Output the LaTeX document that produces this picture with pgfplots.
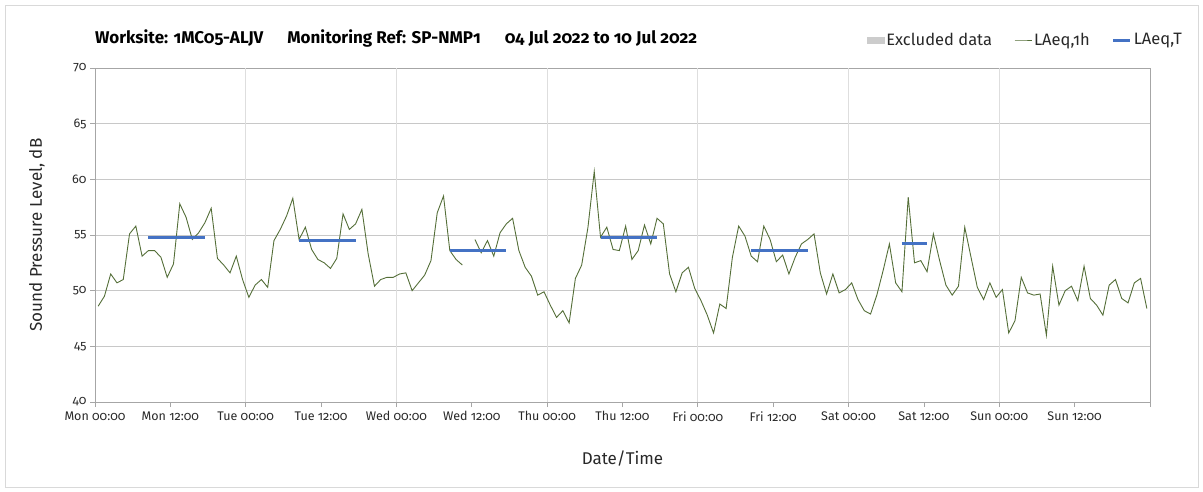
\documentclass[border=0pt]{standalone}
\usepackage{fontspec}
\setmainfont[Numbers=OldStyle]{Fira Sans}
\usepackage{pgfplots}
\pgfplotsset{compat=1.18}
\usepackage{pgfplotstable}
\definecolor{lgreen}{RGB}{84,110,56}
\definecolor{lblue}{RGB}{68,114,196}
\definecolor{hgrid}{RGB}{200,200,200}
\definecolor{vgrid}{RGB}{222,222,222}
\definecolor{axc}{RGB}{166,166,166}
\definecolor{txt}{RGB}{40,40,40}

\pgfplotstableread{
x y
0.5 48.6
1.5 49.5
2.5 51.5
3.5 50.7
4.5 51.0
5.5 55.1
6.5 55.8
7.5 53.1
8.5 53.6
9.5 53.6
10.5 53.0
11.5 51.2
12.5 52.4
13.5 57.8
14.5 56.6
15.5 54.6
16.5 55.2
17.5 56.1
18.5 57.4
19.5 52.9
20.5 52.3
21.5 51.6
22.5 53.1
23.5 51.0
24.5 49.4
25.5 50.5
26.5 51.0
27.5 50.3
28.5 54.5
29.5 55.5
30.5 56.7
31.5 58.3
32.5 54.6
33.5 55.7
34.5 53.7
35.5 52.8
36.5 52.5
37.5 52.0
38.5 52.9
39.5 56.9
40.5 55.5
41.5 56.0
42.5 57.3
43.5 53.3
44.5 50.4
45.5 51.0
46.5 51.2
47.5 51.2
48.5 51.5
49.5 51.6
50.5 50.0
51.5 50.7
52.5 51.4
53.5 52.7
54.5 57.0
55.5 58.5
56.5 53.6
57.5 52.8
58.5 52.3
59.5 nan
60.5 54.6
61.5 53.4
62.5 54.5
63.5 53.1
64.5 55.2
65.5 56.0
66.5 56.5
67.5 53.6
68.5 52.1
69.5 51.3
70.5 49.6
71.5 49.9
72.5 48.7
73.5 47.6
74.5 48.2
75.5 47.1
76.5 51.1
77.5 52.3
78.5 55.7
79.5 60.7
80.5 54.8
81.5 55.7
82.5 53.7
83.5 53.6
84.5 55.8
85.5 52.8
86.5 53.6
87.5 55.9
88.5 54.2
89.5 56.5
90.5 56.0
91.5 51.5
92.5 49.9
93.5 51.6
94.5 52.1
95.5 50.2
96.5 49.1
97.5 47.8
98.5 46.2
99.5 48.8
100.5 48.4
101.5 53.0
102.5 55.8
103.5 54.9
104.5 53.1
105.5 52.6
106.5 55.8
107.5 54.6
108.5 52.6
109.5 53.2
110.5 51.5
111.5 53.0
112.5 54.2
113.5 54.6
114.5 55.1
115.5 51.6
116.5 49.7
117.5 51.5
118.5 49.8
119.5 50.1
120.5 50.7
121.5 49.2
122.5 48.2
123.5 47.9
124.5 49.6
125.5 51.8
126.5 54.2
127.5 50.7
128.5 49.9
129.5 58.4
130.5 52.5
131.5 52.7
132.5 51.7
133.5 55.1
134.5 52.7
135.5 50.5
136.5 49.6
137.5 50.4
138.5 55.7
139.5 53.0
140.5 50.3
141.5 49.2
142.5 50.7
143.5 49.4
144.5 50.1
145.5 46.2
146.5 47.3
147.5 51.2
148.5 49.8
149.5 49.6
150.5 49.7
151.5 46.0
152.5 52.2
153.5 48.7
154.5 50.0
155.5 50.4
156.5 49.1
157.5 52.2
158.5 49.3
159.5 48.7
160.5 47.8
161.5 50.5
162.5 51.0
163.5 49.3
164.5 48.9
165.5 50.7
166.5 51.1
167.5 48.4
}\hourly

\begin{document}
\begin{tikzpicture}[x=1pt,y=1pt]
\useasboundingbox (0,0) rectangle (1203,491);
\draw[color=black!15] (5,4) rectangle (1198,486);
\node[anchor=west, inner sep=0pt, text=black, font=\fontsize{17}{19}\selectfont\bfseries] at (95,453)
  {Worksite: 1MC05-ALJV\hspace{24pt}Monitoring Ref: SP-NMP1\hspace{24pt}04 Jul 2022 to 10 Jul 2022};
\begin{axis}[
  at={(95pt,89pt)}, anchor=south west,
  scale only axis, width=1055pt, height=334pt,
  xmin=0, xmax=168, ymin=40, ymax=70,
  axis line style={axc},
  ytick={40,45,...,70},
  xtick={0,12,...,168},
  xticklabels={Mon 00:00,Mon 12:00,Tue 00:00,Tue 12:00,Wed 00:00,Wed 12:00,Thu 00:00,Thu 12:00,Fri 00:00,Fri 12:00,Sat 00:00,Sat 12:00,Sun 00:00,Sun 12:00,},
  tick align=outside, major tick length=5pt,
  tick style={axc, line width=0.8pt},
  xtick pos=bottom, ytick pos=left,
  ymajorgrids, y grid style={hgrid, line width=0.9pt},
  extra x ticks={24,48,72,96,120,144},
  extra x tick labels={},
  extra x tick style={grid=major, major tick length=0pt, x grid style={vgrid, line width=0.9pt}},
  /pgf/number format/assume math mode=true,
  tick label style={text=txt, font=\fontsize{12.5}{14}\selectfont},
  xticklabel style={yshift=-1pt},
  ylabel={Sound Pressure Level, dB},
  xlabel={Date/Time},
  label style={font=\fontsize{17}{19}\selectfont, text=txt},
  ylabel style={at={(axis description cs:-0.055,0.5)}, anchor=center},
  xlabel style={at={(axis description cs:0.5,0)}, anchor=center, yshift=-57pt},
  unbounded coords=jump,
  legend columns=3,
  legend style={at={(axis description cs:1,1)}, anchor=east, xshift=37pt, yshift=28pt,
    draw=none, fill=none, font=\fontsize{16.5}{18}\selectfont, text=txt,
    /tikz/every even column/.append style={column sep=20pt}},
  legend cell align=left,
  clip=false,
]
\addlegendimage{area legend, fill=black!20, draw=black!20}
\addlegendentry{Excluded data}
\addplot[lgreen, line width=0.9pt, mark=none] table[x=x,y=y] {\hourly};
\addlegendentry{LAeq,1h}
\addplot[lblue, line width=3pt, mark=none] coordinates {(8.5,54.8) (17.5,54.8)};
\addlegendentry{LAeq,T}
\addplot[lblue, line width=3pt, mark=none, forget plot] coordinates {(32.5,54.55) (41.5,54.55)};
\addplot[lblue, line width=3pt, mark=none, forget plot] coordinates {(56.5,53.65) (65.5,53.65)};
\addplot[lblue, line width=3pt, mark=none, forget plot] coordinates {(80.5,54.8) (89.5,54.8)};
\addplot[lblue, line width=3pt, mark=none, forget plot] coordinates {(104.5,53.65) (113.5,53.65)};
\addplot[lblue, line width=3pt, mark=none, forget plot] coordinates {(128.5,54.2) (132.5,54.2)};
\end{axis}
\end{tikzpicture}
\end{document}
